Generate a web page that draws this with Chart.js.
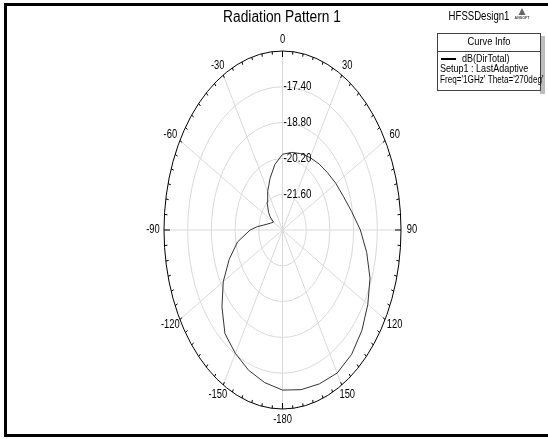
<!DOCTYPE html>
<html>
<head>
<meta charset="utf-8">
<script src="https://cdn.jsdelivr.net/npm/chart.js@4/dist/chart.umd.min.js"></script>
<style>
    html, body { margin: 0; padding: 0; background: #fff; }
    #wrap { width: 548px; height: 439px; position: relative; }
</style>
</head>
<body>
<div id="wrap"><canvas id="pattern" width="548" height="439"></canvas></div>
<script>
// phi (deg) and dB(DirTotal)
const phiDeg = [-180, -170, -160, -150, -140, -130, -120, -110, -100, -90,
    -85, -80, -70, -60, -55, -50, -40, -30, -20, -10,
    0, 10, 20, 30, 40, 50, 60, 70, 80, 90,
    100, 110, 120, 130, 140, 150, 160, 170, 180];
const dirTotal = [-16.74, -16.94, -17.16, -17.43, -17.71, -18.33, -18.96, -19.65, -20.30, -21.09,
    -21.50, -21.88, -22.23, -22.38, -22.11, -21.93, -21.58, -21.25, -20.85, -20.40,
    -20.04, -19.92, -19.82, -19.73, -19.63, -19.52, -19.36, -19.17, -18.85, -18.40,
    -17.95, -17.50, -17.18, -16.88, -16.65, -16.54, -16.60, -16.66, -16.74];

const ringValues = [-21.6, -20.2, -18.8, -17.4];
const ringLabels = ['-21.60', '-20.20', '-18.80', '-17.40'];
const angleTicks = [0, 30, 60, 90, 120, 150, 180, -150, -120, -90, -60, -30];
const angleLabels = ['0', '30', '60', '90', '120', '150', '-180', '-150', '-120', '-90', '-60', '-30'];
const rMin = -23.0;
const rMax = -16.0;

const FONT = "'Liberation Sans', Arial, sans-serif";

const toRad = d => d * Math.PI / 180;
const norm = v => (v - rMin) / (rMax - rMin);

const points = phiDeg.map((p, i) => ({
    x: norm(dirTotal[i]) * Math.sin(toRad(p)),
    y: norm(dirTotal[i]) * Math.cos(toRad(p))
}));

// narrow text, like the HFSS report font
function narrowText(ctx, text, x, y, size, align, sx = 0.82, weight = '') {
    ctx.save();
    ctx.translate(x, y);
    ctx.scale(sx, 1);
    ctx.font = weight + ' ' + size + 'px ' + FONT;
    ctx.textAlign = align;
    ctx.textBaseline = 'middle';
    ctx.fillText(text, 0, 0);
    ctx.restore();
}

// polar grid + annotations drawn through the x / y scales
const polarGrid = {
    id: 'polarGrid',
    beforeDatasetsDraw(chart) {
        const { ctx, scales: { x, y } } = chart;
        const cx = x.getPixelForValue(0), cy = y.getPixelForValue(0);
        const rx = x.getPixelForValue(1) - cx, ry = cy - y.getPixelForValue(1);
        ctx.save();
        ctx.strokeStyle = '#d9d9d9';
        ctx.lineWidth = 1;
        ringValues.forEach(v => {
            const f = norm(v);
            ctx.beginPath();
            ctx.ellipse(cx, cy, rx * f, ry * f, 0, 0, Math.PI * 2);
            ctx.stroke();
        });
        angleTicks.forEach(a => {
            ctx.beginPath();
            ctx.moveTo(cx, cy);
            ctx.lineTo(cx + rx * Math.sin(toRad(a)), cy - ry * Math.cos(toRad(a)));
            ctx.stroke();
        });
        // outer ellipse with ticks
        ctx.strokeStyle = '#000';
        ctx.beginPath();
        ctx.ellipse(cx, cy, rx, ry, 0, 0, Math.PI * 2);
        ctx.stroke();
        for (let a = 0; a < 360; a += 5) {
            const s = Math.sin(toRad(a)), c = Math.cos(toRad(a));
            const len = (a % 90 === 0) ? 6 : 3;
            const px = cx + rx * s, py = cy - ry * c;
            const d = Math.hypot(rx * s, ry * c);
            ctx.beginPath();
            ctx.moveTo(px, py);
            ctx.lineTo(px - rx * s / d * len, py + ry * c / d * len);
            ctx.stroke();
        }
        ctx.restore();
    },
    afterDatasetsDraw(chart) {
        const { ctx, scales: { x, y } } = chart;
        const cx = x.getPixelForValue(0), cy = y.getPixelForValue(0);
        const rx = x.getPixelForValue(1) - cx, ry = cy - y.getPixelForValue(1);
        ctx.save();
        ctx.fillStyle = '#000';
        ringValues.forEach((v, i) => {
            narrowText(ctx, ringLabels[i], cx + 1, cy - ry * norm(v), 12, 'left');
        });
        angleTicks.forEach((a, i) => {
            narrowText(ctx, angleLabels[i],
                cx + (rx + 11) * Math.sin(toRad(a)),
                cy - (ry + 11) * Math.cos(toRad(a)), 12, 'center', 0.78);
        });

        // frame
        ctx.lineWidth = 3;
        ctx.strokeStyle = '#000';
        ctx.strokeRect(5.5, 4.5, 560, 431);

        // title + design name
        narrowText(ctx, 'Radiation Pattern 1', 282, 18, 16, 'center', 0.86);
        narrowText(ctx, 'HFSSDesign1', 479, 17, 12, 'center', 0.8);
        // ansoft mark
        ctx.beginPath();
        ctx.moveTo(522, 8); ctx.lineTo(518.5, 15); ctx.lineTo(525.5, 15); ctx.closePath();
        ctx.fillStyle = '#666';
        ctx.fill();
        ctx.fillStyle = '#444';
        narrowText(ctx, 'ANSOFT', 522, 18, 4, 'center', 0.9, 'bold');

        // curve info box
        ctx.fillStyle = '#bdbdbd';
        ctx.fillRect(540, 36, 5, 58);
        ctx.fillStyle = '#fff';
        ctx.fillRect(437, 33, 103, 57);
        ctx.lineWidth = 1;
        ctx.strokeStyle = '#444';
        ctx.strokeRect(437.5, 33.5, 103, 57);
        ctx.beginPath();
        ctx.moveTo(437, 51.5); ctx.lineTo(540, 51.5);
        ctx.stroke();
        ctx.fillStyle = '#000';
        narrowText(ctx, 'Curve Info', 489, 42, 11, 'center', 0.85);
        ctx.fillRect(441, 58, 15, 2);
        narrowText(ctx, 'dB(DirTotal)', 462, 59, 11, 'left', 0.82);
        narrowText(ctx, 'Setup1 : LastAdaptive', 440, 69, 11, 'left', 0.82);
        narrowText(ctx, "Freq='1GHz' Theta='270deg'", 440, 80, 11, 'left', 0.74);
        ctx.restore();
    }
};

new Chart(document.getElementById('pattern'), {
    type: 'scatter',
    data: {
        datasets: [{
            label: 'dB(DirTotal)',
            data: points,
            showLine: true,
            borderColor: '#333',
            borderWidth: 1,
            pointRadius: 0,
            tension: 0
        }]
    },
    options: {
        responsive: false,
        animation: false,
        layout: { padding: { left: 164, right: 147, top: 51, bottom: 30 } },
        plugins: { legend: { display: false }, title: { display: false }, tooltip: { enabled: false } },
        scales: {
            x: { type: 'linear', min: -1, max: 1, display: false },
            y: { type: 'linear', min: -1, max: 1, display: false }
        }
    },
    plugins: [polarGrid]
});
</script>
</body>
</html>
